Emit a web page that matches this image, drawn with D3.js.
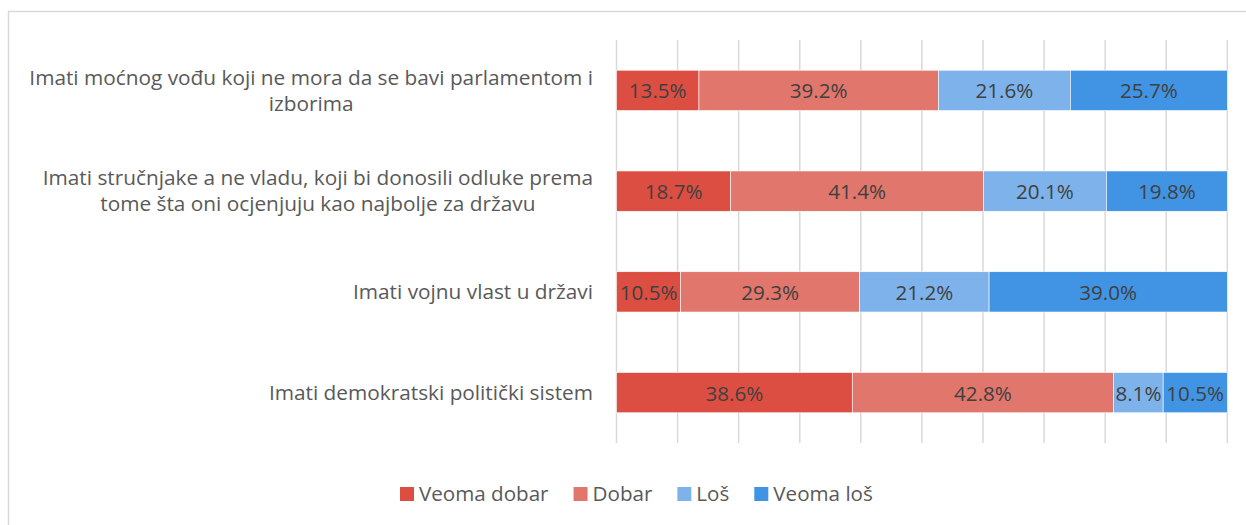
<!DOCTYPE html>
<html><head><meta charset="utf-8">
<script src="https://cdn.jsdelivr.net/npm/d3@7"></script>
<style>body{margin:0;background:#fff}text{font-family:"Open Sans",sans-serif}</style>
</head><body><svg id="c" width="1246" height="525"></svg>
<script>
const categories = [
  ["Imati moćnog vođu koji ne mora da se bavi parlamentom i", "izborima"],
  ["Imati stručnjake a ne vladu, koji bi donosili odluke prema", "tome šta oni ocjenjuju kao najbolje za državu"],
  ["Imati vojnu vlast u državi"],
  ["Imati demokratski politički sistem"]
];
const seriesNames = ["Veoma dobar", "Dobar", "Loš", "Veoma loš"];
const veomaDobar = [13.5, 18.7, 10.5, 38.6];
const dobar      = [39.2, 41.4, 29.3, 42.8];
const los        = [21.6, 20.1, 21.2, 8.1];
const veomaLos   = [25.7, 19.8, 39.0, 10.5];
const gridTicks  = [0,10,20,30,40,50,60,70,80,90,100];
const colors = ["#DC4E41", "#E0766C", "#7DB3EA", "#4194E3"];

const seriesValues = [veomaDobar, dobar, los, veomaLos];
const svg = d3.select("#c");

// outer border
svg.append("rect").attr("x",8.5).attr("y",11.5).attr("width",1260).attr("height",530)
  .attr("fill","none").attr("stroke","#d9d9d9").attr("stroke-width",1.5);

const x = d3.scaleLinear().domain([0,100]).range([616.5,1227.3]);
const y = d3.scaleBand().domain(d3.range(categories.length)).range([40,443]).paddingInner(0.6).paddingOuter(0.3);

// gridlines
svg.append("g").selectAll("line").data(gridTicks).join("line")
  .attr("x1",d=>x(d)).attr("x2",d=>x(d)).attr("y1",40).attr("y2",443)
  .attr("stroke","#d9d9d9").attr("stroke-width",1.5);

// stacked data
const rows = categories.map((c,i)=>{ const o={i}; seriesNames.forEach((s,k)=>o[s]=seriesValues[k][i]); return o; });
const stack = d3.stack().keys(seriesNames)(rows);

const g = svg.append("g");
stack.forEach((layer,k)=>{
  const lg = g.append("g");
  lg.selectAll("rect").data(layer).join("rect")
    .attr("x",d=>x(d[0])).attr("width",d=>x(d[1])-x(d[0]))
    .attr("y",(d,i)=>y(i)).attr("height",y.bandwidth())
    .attr("fill",colors[k]).attr("stroke","#fff").attr("stroke-width",0.6);
  lg.selectAll("text").data(layer).join("text")
    .attr("x",d=>(x(d[0])+x(d[1]))/2).attr("y",(d,i)=>y(i)+y.bandwidth()/2)
    .attr("text-anchor","middle").attr("dominant-baseline","central")
    .attr("fill","#404040").style("font-size","20.6px")
    .text(d=>(d[1]-d[0]).toFixed(1)+"%");
});

// category labels
const labelRight = 593, lineH = 26;
categories.forEach((lines,i)=>{
  const t = svg.append("text").attr("fill","#595959").style("font-size","20.8px").attr("text-anchor","middle");
  const cy = y(i)+y.bandwidth()/2;
  const spans = lines.map((l,j)=>t.append("tspan").attr("y",cy+(j-(lines.length-1)/2)*lineH).attr("dy","0.35em").text(l));
  const maxW = d3.max(spans,s=>s.node().getComputedTextLength());
  spans.forEach(s=>s.attr("x",labelRight-maxW/2));
});

// legend
let lx = 400; const ly = 494;
seriesNames.forEach((s,k)=>{
  svg.append("rect").attr("x",lx).attr("y",ly-7).attr("width",14).attr("height",14).attr("fill",colors[k]);
  const t = svg.append("text").attr("x",lx+19).attr("y",ly).attr("dy","0.35em")
    .attr("fill","#595959").style("font-size","20.6px").text(s);
  lx += 19 + t.node().getComputedTextLength() + 25;
});
</script></body></html>
